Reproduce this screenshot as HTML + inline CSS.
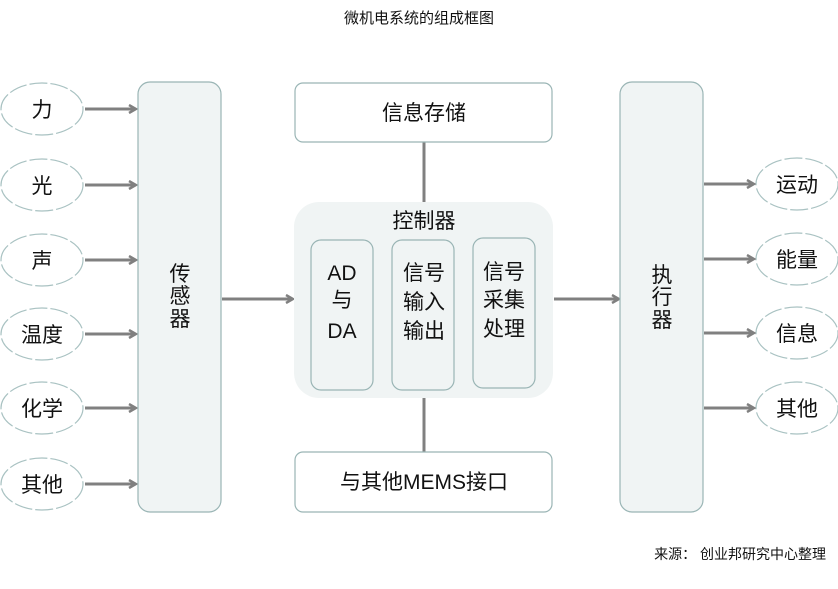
<!DOCTYPE html><html><head><meta charset="utf-8"><style>body{margin:0;background:#fff}svg text{font-family:"Liberation Sans","Noto Sans CJK SC",sans-serif;fill:#111}</style></head><body>
<svg width="838" height="584" xmlns="http://www.w3.org/2000/svg">
<defs><marker id="a" markerWidth="10" markerHeight="10" refX="8" refY="5" orient="auto" markerUnits="userSpaceOnUse"><path d="M1,1 L8,5 L1,9" fill="none" stroke="#808080" stroke-width="2.5"/></marker></defs>
<text x="419" y="23" font-size="15" text-anchor="middle">微机电系统的组成框图</text>
<g fill="#fff" stroke="#a9c2c2" stroke-width="1.2" stroke-dasharray="18 3">
<ellipse cx="42" cy="109" rx="41" ry="26"/><ellipse cx="42" cy="185" rx="41" ry="26"/><ellipse cx="42" cy="260" rx="41" ry="26"/><ellipse cx="42" cy="334" rx="41" ry="26"/><ellipse cx="42" cy="408" rx="41" ry="26"/><ellipse cx="42" cy="484" rx="41" ry="26"/>
<ellipse cx="797" cy="184" rx="41" ry="26"/><ellipse cx="797" cy="259" rx="41" ry="26"/><ellipse cx="797" cy="333" rx="41" ry="26"/><ellipse cx="797" cy="408" rx="41" ry="26"/></g>
<g font-size="21" text-anchor="middle">
<text x="42" y="117">力</text><text x="42" y="193">光</text><text x="42" y="268">声</text><text x="42" y="342">温度</text><text x="42" y="416">化学</text><text x="42" y="492">其他</text>
<text x="797" y="192">运动</text><text x="797" y="267">能量</text><text x="797" y="341">信息</text><text x="797" y="416">其他</text></g>
<g stroke="#808080" stroke-width="3" marker-end="url(#a)">
<line x1="85" y1="109" x2="136" y2="109"/><line x1="85" y1="185" x2="136" y2="185"/><line x1="85" y1="260" x2="136" y2="260"/><line x1="85" y1="334" x2="136" y2="334"/><line x1="85" y1="408" x2="136" y2="408"/><line x1="85" y1="484" x2="136" y2="484"/>
<line x1="222" y1="299" x2="293" y2="299"/><line x1="554" y1="299" x2="619" y2="299"/>
<line x1="704" y1="184" x2="754" y2="184"/><line x1="704" y1="259" x2="754" y2="259"/><line x1="704" y1="333" x2="754" y2="333"/><line x1="704" y1="408" x2="754" y2="408"/></g>
<g stroke="#808080" stroke-width="3"><line x1="424" y1="142" x2="424" y2="202"/><line x1="424" y1="398" x2="424" y2="452"/></g>
<g fill="#f0f4f4" stroke="#9ab5b5" stroke-width="1.2">
<rect x="138" y="82" width="83" height="430" rx="12"/><rect x="620" y="82" width="83" height="430" rx="12"/></g>
<rect x="294" y="202" width="259" height="196" rx="25" fill="#f0f4f4"/>
<g fill="#fff" stroke="#9ab5b5" stroke-width="1.2">
<rect x="295" y="83" width="257" height="59" rx="8"/><rect x="295" y="452" width="257" height="60" rx="8"/></g>
<g fill="#f0f4f4" stroke="#9ab5b5" stroke-width="1.2">
<rect x="311" y="240" width="62" height="150" rx="10"/><rect x="392" y="240" width="62" height="150" rx="10"/><rect x="473" y="238" width="62" height="150" rx="10"/></g>
<g font-size="21" text-anchor="middle">
<text x="180" y="281">传</text><text x="180" y="303">感</text><text x="180" y="326">器</text>
<text x="662" y="282">执</text><text x="662" y="304">行</text><text x="662" y="327">器</text>
<text x="424" y="120">信息存储</text><text x="424" y="489">与其他MEMS接口</text>
<text x="424" y="228">控制器</text>
<text x="342" y="280">AD</text><text x="342" y="307">与</text><text x="342" y="338">DA</text>
<text x="424" y="280">信号</text><text x="424" y="309">输入</text><text x="424" y="338">输出</text>
<text x="504" y="279">信号</text><text x="504" y="307">采集</text><text x="504" y="336">处理</text></g>
<text x="826" y="559" font-size="14" text-anchor="end">来源： 创业邦研究中心整理</text>
</svg></body></html>
